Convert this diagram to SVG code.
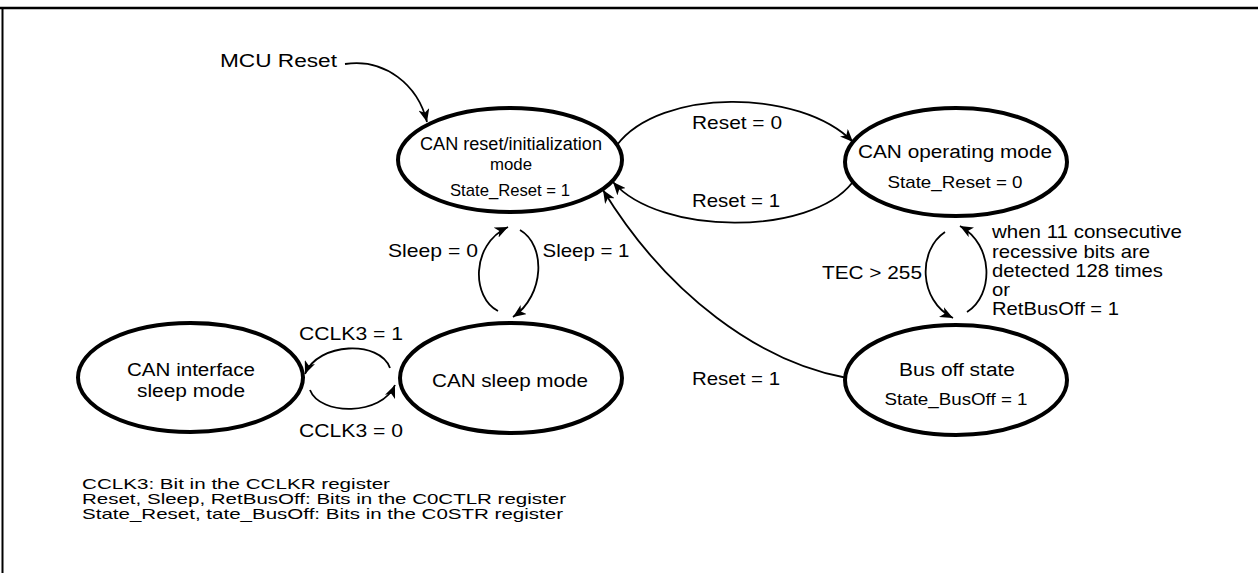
<svg xmlns="http://www.w3.org/2000/svg" width="1258" height="573" viewBox="0 0 1258 573">
<style>
text{font-family:"Liberation Sans",Arial,Helvetica,sans-serif;fill:#000}
.node ellipse{fill:#fff;stroke:#000;stroke-width:4}
.c path{fill:none;stroke:#000;stroke-width:1.8;marker-end:url(#ah)}
.m{text-anchor:middle}
.lg{font-size:15px}
</style>
<defs>
<marker id="ah" markerUnits="userSpaceOnUse" markerWidth="14" markerHeight="11" refX="13" refY="5.5" orient="auto">
<path d="M0,0 L13,5.5 L0,11 L3.5,5.5 Z" fill="#000"/>
</marker>
</defs>
<rect x="0" y="0" width="1258" height="573" fill="#fff"/>
<g id="frame">
<line x1="0" y1="8" x2="1258" y2="8" stroke="#000" stroke-width="2.5"/>
<line x1="2.5" y1="7" x2="2.5" y2="573" stroke="#000" stroke-width="2"/>
</g>
<g id="connectors" class="c">
<path d="M345,64 C385,58 418,85 427,122"/>
<path d="M617,145 C660,88 800,88 853,142"/>
<path d="M852,183 C810,236 660,236 613,182"/>
<path d="M847,378 C760,362 668,296 603,190"/>
<path d="M498,311 C472,298 470,245 508,227"/>
<path d="M520,230 C546,245 545,295 513,317"/>
<path d="M390,368 C380,340 318,342 305,374"/>
<path d="M310,390 C320,416 382,416 395,385"/>
<path d="M945,232 C918,250 918,300 953,318"/>
<path d="M967,312 C994,295 994,245 960,226"/>
</g>
<g id="labels">
<text x="220" y="67" font-size="18" textLength="117" lengthAdjust="spacingAndGlyphs">MCU Reset</text>
<text class="m" x="737" y="129" font-size="19" textLength="90" lengthAdjust="spacingAndGlyphs">Reset = 0</text>
<text class="m" x="736" y="207" font-size="19" textLength="88" lengthAdjust="spacingAndGlyphs">Reset = 1</text>
<text class="m" x="736" y="385" font-size="19" textLength="88" lengthAdjust="spacingAndGlyphs">Reset = 1</text>
<text class="m" x="433" y="257" font-size="19" textLength="90" lengthAdjust="spacingAndGlyphs">Sleep = 0</text>
<text class="m" x="586" y="257" font-size="19" textLength="87" lengthAdjust="spacingAndGlyphs">Sleep = 1</text>
<text class="m" x="351" y="340" font-size="18" textLength="104" lengthAdjust="spacingAndGlyphs">CCLK3 = 1</text>
<text class="m" x="351" y="437" font-size="18" textLength="104" lengthAdjust="spacingAndGlyphs">CCLK3 = 0</text>
<text class="m" x="872" y="279" font-size="19" textLength="100" lengthAdjust="spacingAndGlyphs">TEC &gt; 255</text>
<text x="992" y="238" font-size="18.5" textLength="190" lengthAdjust="spacingAndGlyphs">when 11 consecutive</text>
<text x="992" y="258" font-size="18.5" textLength="158" lengthAdjust="spacingAndGlyphs">recessive bits are</text>
<text x="992" y="277" font-size="18.5" textLength="171" lengthAdjust="spacingAndGlyphs">detected 128 times</text>
<text x="992" y="296" font-size="18.5" textLength="18" lengthAdjust="spacingAndGlyphs">or</text>
<text x="992" y="315" font-size="18.5" textLength="127" lengthAdjust="spacingAndGlyphs">RetBusOff = 1</text>
</g>
<g id="node-reset" class="node">
<ellipse cx="510" cy="160" rx="112" ry="52"/>
<text class="m" x="511" y="150" font-size="18" textLength="182" lengthAdjust="spacingAndGlyphs">CAN reset/initialization</text>
<text class="m" x="511" y="170" font-size="16" textLength="42" lengthAdjust="spacingAndGlyphs">mode</text>
<text class="m" x="510" y="196" font-size="17" textLength="120" lengthAdjust="spacingAndGlyphs">State_Reset = 1</text>
</g>
<g id="node-operating" class="node">
<ellipse cx="956" cy="162" rx="111" ry="54"/>
<text class="m" x="955" y="158" font-size="18" textLength="194" lengthAdjust="spacingAndGlyphs">CAN operating mode</text>
<text class="m" x="955" y="188" font-size="17" textLength="135" lengthAdjust="spacingAndGlyphs">State_Reset = 0</text>
</g>
<g id="node-sleep" class="node">
<ellipse cx="511" cy="378" rx="111" ry="55"/>
<text class="m" x="510" y="387" font-size="19" textLength="156" lengthAdjust="spacingAndGlyphs">CAN sleep mode</text>
</g>
<g id="node-interface-sleep" class="node">
<ellipse cx="190.5" cy="377.5" rx="112.5" ry="54.5"/>
<text class="m" x="191" y="376" font-size="18" textLength="128" lengthAdjust="spacingAndGlyphs">CAN interface</text>
<text class="m" x="191" y="397" font-size="18" textLength="108" lengthAdjust="spacingAndGlyphs">sleep mode</text>
</g>
<g id="node-busoff" class="node">
<ellipse cx="956" cy="380" rx="111" ry="55"/>
<text class="m" x="957" y="376" font-size="18" textLength="116" lengthAdjust="spacingAndGlyphs">Bus off state</text>
<text class="m" x="956" y="405" font-size="17" textLength="143" lengthAdjust="spacingAndGlyphs">State_BusOff = 1</text>
</g>
<g id="legend">
<text class="lg" x="82" y="489" textLength="308" lengthAdjust="spacingAndGlyphs">CCLK3: Bit in the CCLKR register</text>
<text class="lg" x="82" y="504" textLength="484" lengthAdjust="spacingAndGlyphs">Reset, Sleep, RetBusOff: Bits in the C0CTLR register</text>
<text class="lg" x="82" y="519" textLength="481" lengthAdjust="spacingAndGlyphs">State_Reset, tate_BusOff: Bits in the C0STR register</text>
</g>
</svg>
